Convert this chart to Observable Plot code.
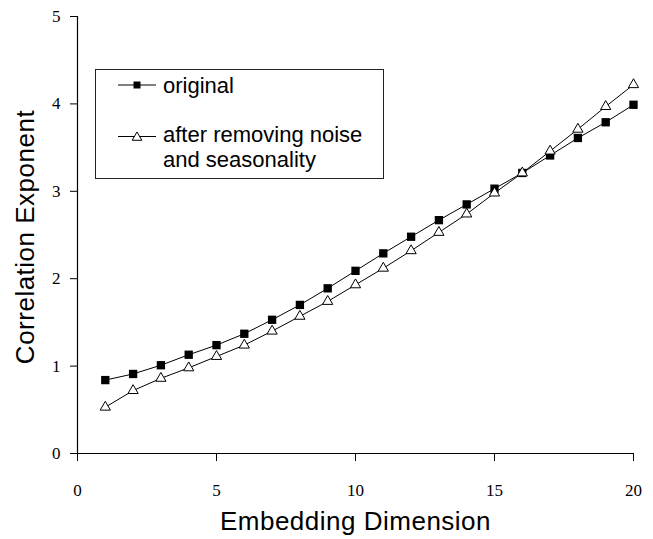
<!DOCTYPE html>
<html>
<head>
<meta charset="utf-8">
<script src="https://cdn.jsdelivr.net/npm/d3@7"></script>
<script src="https://cdn.jsdelivr.net/npm/@observablehq/plot@0.6"></script>
<style>
  html, body { margin: 0; padding: 0; background: #fff; }
  #chart { position: relative; width: 653px; height: 539px; }
</style>
</head>
<body>
<div id="chart"></div>
<script>
const dims = [1,2,3,4,5,6,7,8,9,10,11,12,13,14,15,16,17,18,19,20];
const original = [0.84,0.91,1.01,1.13,1.24,1.37,1.53,1.70,1.89,2.09,2.29,2.48,2.67,2.85,3.03,3.21,3.41,3.61,3.79,3.99];
const filtered = [0.53,0.72,0.86,0.98,1.11,1.24,1.40,1.57,1.74,1.93,2.12,2.32,2.53,2.74,2.98,3.21,3.46,3.71,3.97,4.22];
const xTicks = [0,5,10,15,20];
const yTicks = [0,1,2,3,4,5];
const xTitle = "Embedding Dimension";
const yTitle = "Correlation Exponent";
const legendLabels = [["original"], ["after removing noise", "and seasonality"]];

const origData = dims.map((d, i) => ({x: d, y: original[i]}));
const filtData = dims.map((d, i) => ({x: d, y: filtered[i]}));

const sans = "'Liberation Sans', Arial, sans-serif";
const serif = "'Liberation Serif', 'Times New Roman', serif";

const plot = Plot.plot({
  width: 653,
  height: 539,
  marginLeft: 77,
  marginRight: 20,
  marginTop: 16,
  marginBottom: 86,
  style: {background: "#fff", color: "#000", overflow: "visible"},
  x: {domain: [0, 20]},
  y: {domain: [0, 5]},
  marks: [
    Plot.axisX({ticks: xTicks, tickSize: 8, tickPadding: 22, fontSize: 17, fontFamily: serif, label: null, tickFormat: d => String(d)}),
    Plot.axisY({ticks: yTicks, tickSize: 7, tickPadding: 10, fontSize: 17, fontFamily: serif, label: null, tickFormat: d => String(d)}),
    Plot.ruleY([0], {stroke: "#000", strokeWidth: 1.2}),
    Plot.ruleX([0], {stroke: "#000", strokeWidth: 1.2}),
    Plot.line(origData, {x: "x", y: "y", stroke: "#000", strokeWidth: 1}),
    Plot.line(filtData, {x: "x", y: "y", stroke: "#000", strokeWidth: 1}),
    Plot.dot(origData, {x: "x", y: "y", symbol: "square", r: 4.7, fill: "#000", stroke: "none"}),
    Plot.dot(filtData, {x: "x", y: "y", symbol: "triangle", r: 3.8, fill: "#fff", stroke: "#000", strokeWidth: 1}),
    Plot.text([xTitle], {frameAnchor: "bottom", dy: 68, fontSize: 26, fontFamily: sans, fill: "#000", lineAnchor: "middle", textAnchor: "middle"}),
    Plot.text([yTitle], {frameAnchor: "left", rotate: -90, dx: -52, dy: 2, fontSize: 26, fontFamily: sans, fill: "#000", lineAnchor: "middle", textAnchor: "middle"})
  ]
});

document.getElementById("chart").appendChild(plot);

const svg = d3.select(plot);
svg.selectAll("text").filter(function() { return this.textContent === xTitle || this.textContent === yTitle; })
  .attr("letter-spacing", "0.5px");

// Legend box (inside the plot area, as in the reference)
const lg = svg.append("g").attr("class", "legend").attr("text-anchor", "start");
lg.append("rect").attr("x", 95.5).attr("y", 69.5).attr("width", 288).attr("height", 109)
  .attr("fill", "#fff").attr("stroke", "#222").attr("stroke-width", 1);
const rowY = [85, 136.5];
const textBase = [[92.7], [141.7, 166.7]];
legendLabels.forEach((lines, i) => {
  lg.append("line").attr("x1", 118).attr("x2", 156).attr("y1", rowY[i]).attr("y2", rowY[i])
    .attr("stroke", "#000").attr("stroke-width", 1);
  if (i === 0) {
    lg.append("rect").attr("x", 137 - 3.5).attr("y", rowY[i] - 3.5).attr("width", 7).attr("height", 7).attr("fill", "#000");
  } else {
    lg.append("path").attr("d", d3.symbol(d3.symbolTriangle, 40)())
      .attr("transform", `translate(137,${rowY[i] + 1})`)
      .attr("fill", "#fff").attr("stroke", "#000").attr("stroke-width", 1);
  }
  lines.forEach((t, j) => {
    lg.append("text").attr("x", 163).attr("y", textBase[i][j]).text(t)
      .attr("text-anchor", "start")
      .attr("font-family", sans).attr("font-size", 22).attr("fill", "#000");
  });
});
</script>
</body>
</html>
